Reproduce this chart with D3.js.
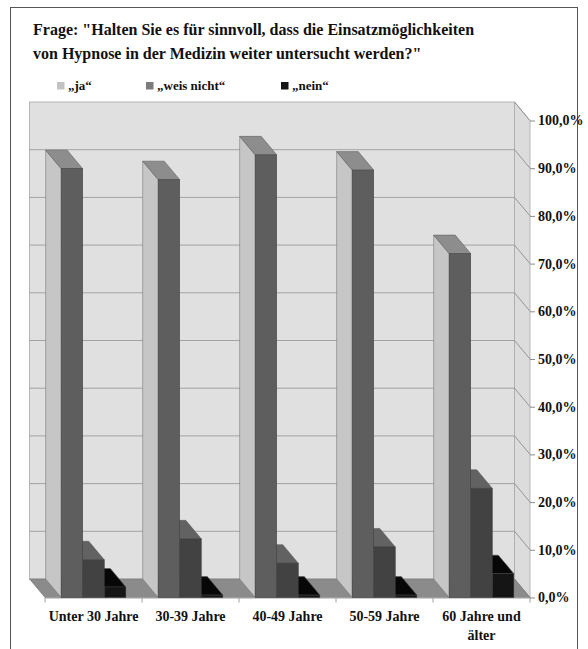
<!DOCTYPE html>
<html>
<head>
<meta charset="utf-8">
<script src="https://cdn.jsdelivr.net/npm/d3@7"></script>
<style>
  html, body { margin: 0; padding: 0; background: #fff; }
  svg { display: block; }
  svg text { font-family: "Liberation Serif", "Times New Roman", Times, serif; font-weight: bold; fill: #111; }
</style>
</head>
<body>
<svg id="chart" width="588" height="649"></svg>
<script>
// ---------- data ----------
const titleLines = ["Frage: \"Halten Sie es für sinnvoll, dass die Einsatzmöglichkeiten",
                    "von Hypnose in der Medizin weiter untersucht werden?\""];
const categories = ["Unter 30 Jahre", "30-39 Jahre", "40-49 Jahre", "50-59 Jahre", "60 Jahre und älter"];
const seriesNames = ["„ja“", "„weis nicht“", "„nein“"];
const ja        = [89.9, 87.6, 92.8, 89.6, 72.1];
const weisNicht = [7.9, 12.3, 7.2, 10.6, 22.9];
const nein      = [2.2, 0.5, 0.5, 0.5, 5.0];
const tickValues = [0, 10, 20, 30, 40, 50, 60, 70, 80, 90, 100];

// ---------- layout ----------
const svg = d3.select("#chart");
const FF = "'Liberation Serif', 'Times New Roman', Times, serif";
const FRONT_L = 45, FRONT_R = 530, FRONT_BOT = 597.5, FRONT_TOP = 120.5;
const DX = 15.5, DY = 18.5;

const x = d3.scaleBand().domain(categories).range([FRONT_L, FRONT_R]).paddingInner(0).paddingOuter(0);
const xs = d3.scaleBand().domain(seriesNames).range([0, x.bandwidth()]).paddingInner(0).paddingOuter(0.75);
const y = d3.scaleLinear().domain([0, 100]).range([FRONT_BOT, FRONT_TOP]);

const seriesValues = [ja, weisNicht, nein];
const faceColors = [
  {front: "#5e5e5e", left: "#c6c6c6", top: "#8d8d8d"},
  {front: "#424242", left: "#6c6c6c", top: "#626262"},
  {front: "#151515", left: "#2a2a2a", top: "#070707"}
];
const legendColors = ["#c2c2c2", "#7c7c7c", "#151515"];

// frame
svg.append("rect").attr("x", 10.5).attr("y", 7.5).attr("width", 567).attr("height", 680)
  .attr("fill", "none").attr("stroke", "#555").attr("stroke-width", 1);

// title
svg.append("g").selectAll("text").data(titleLines).join("text")
  .attr("x", 33).attr("y", (d, i) => 35 + i * 24)
  .attr("font-family", FF).attr("font-size", 16).text(d => d);

// legend
const legendX = [57, 146, 281];
const lg = svg.append("g").selectAll("g").data(seriesNames).join("g")
  .attr("transform", (d, i) => `translate(${legendX[i]},0)`);
lg.append("rect").attr("x", 0).attr("y", 82).attr("width", 7.5).attr("height", 7.5)
  .attr("fill", (d, i) => legendColors[i]);
lg.append("text").attr("x", 11).attr("y", 90).attr("font-family", FF).attr("font-size", 13).text(d => d);

// back wall
const backL = FRONT_L - DX, backR = FRONT_R - DX;
svg.append("rect").attr("x", backL).attr("y", y(100) - DY)
  .attr("width", backR - backL).attr("height", y(0) - y(100))
  .attr("fill", "#e0e0e0").attr("stroke", "#a8a8a8").attr("stroke-width", 0.8);

// side wall
const pts = p => p.map(q => q.join(",")).join(" ");
svg.append("polygon")
  .attr("points", pts([[backR, y(100) - DY], [FRONT_R, y(100)], [FRONT_R, y(0)], [backR, y(0) - DY]]))
  .attr("fill", "#dcdcdc").attr("stroke", "#a8a8a8").attr("stroke-width", 0.8);

// gridlines on back wall + side wall diagonals
const grid = svg.append("g");
grid.selectAll("line.h").data(tickValues.filter(t => t > 0 && t < 100)).join("line")
  .attr("class", "h")
  .attr("x1", backL).attr("x2", backR)
  .attr("y1", d => y(d) - DY).attr("y2", d => y(d) - DY)
  .attr("stroke", "#9c9c9c").attr("stroke-width", 0.9);
grid.selectAll("line.d").data(tickValues).join("line")
  .attr("class", "d")
  .attr("x1", backR).attr("x2", FRONT_R)
  .attr("y1", d => y(d) - DY).attr("y2", d => y(d))
  .attr("stroke", "#8c8c8c").attr("stroke-width", 0.9);

// right axis via d3
const yAxis = d3.axisRight(y).tickValues(tickValues).tickSize(5).tickPadding(3)
  .tickFormat(d => d3.format(".1f")(d).replace(".", ",") + "%");
const ya = svg.append("g").attr("transform", `translate(${FRONT_R},0)`).call(yAxis);
ya.attr("font-family", FF);
ya.select(".domain").remove();
ya.selectAll(".tick line").attr("stroke", "#8c8c8c");
ya.selectAll(".tick text").attr("font-size", 14).attr("font-family", FF)
  .attr("font-weight", "bold").attr("fill", "#111");

// floor
svg.append("polygon")
  .attr("points", pts([[backL, y(0) - DY], [backR, y(0) - DY], [FRONT_R, y(0)], [FRONT_L, y(0)]]))
  .attr("fill", "#8b8b8b").attr("stroke", "#777").attr("stroke-width", 0.6);

// category axis
const xAxis = d3.axisBottom(x).tickSize(0).tickPadding(14);
const xa = svg.append("g").attr("transform", `translate(0,${FRONT_BOT})`).call(xAxis);
xa.attr("font-family", FF);
xa.select(".domain").attr("stroke", "#a0a0a0");
xa.selectAll(".tick text").attr("font-size", 14).attr("font-family", FF)
  .attr("font-weight", "bold").attr("fill", "#111")
  .call(wrap, x.bandwidth() - 2);
// category boundary ticks
svg.append("g").selectAll("line").data(categories.concat(["_end"])).join("line")
  .attr("x1", (d, i) => FRONT_L + i * x.step()).attr("x2", (d, i) => FRONT_L + i * x.step())
  .attr("y1", FRONT_BOT).attr("y2", FRONT_BOT + 5)
  .attr("stroke", "#a0a0a0");

function wrap(sel, width) {
  sel.each(function() {
    const t = d3.select(this);
    const words = t.text().split(/\s+/);
    const yv = t.attr("y"), dy = parseFloat(t.attr("dy")) || 0;
    t.text(null);
    let line = [], lineNo = 0;
    let ts = t.append("tspan").attr("x", 0).attr("y", yv).attr("dy", dy + "em");
    for (const w of words) {
      line.push(w);
      ts.text(line.join(" "));
      if (ts.node().getComputedTextLength() > width && line.length > 1) {
        line.pop(); ts.text(line.join(" "));
        line = [w]; lineNo++;
        ts = t.append("tspan").attr("x", 0).attr("y", yv).attr("dy", (dy + lineNo * 1.3) + "em").text(w);
      }
    }
  });
}

// bars (painted from right to left so hidden left faces are covered)
const bars = [];
categories.forEach((c, ci) => {
  seriesNames.forEach((s, si) => {
    bars.push({c, ci, s, si, v: seriesValues[si][ci]});
  });
});
bars.sort((a, b) => (b.ci * 3 + b.si) - (a.ci * 3 + a.si));

const bg = svg.append("g");
bars.forEach(b => {
  const x0 = x(b.c) + xs(b.s), x1 = x0 + xs.bandwidth();
  const yt = y(b.v), yb = y(0);
  const col = faceColors[b.si];
  const g = bg.append("g");
  g.append("polygon")
    .attr("points", pts([[x0 - DX, yt - DY], [x0, yt], [x0, yb], [x0 - DX, yb - DY]]))
    .attr("fill", col.left).attr("stroke", "#6a6a6a").attr("stroke-width", 0.5);
  g.append("polygon")
    .attr("points", pts([[x0 - DX, yt - DY], [x1 - DX, yt - DY], [x1, yt], [x0, yt]]))
    .attr("fill", col.top).attr("stroke", "#555").attr("stroke-width", 0.5);
  g.append("rect").attr("x", x0).attr("y", yt).attr("width", x1 - x0).attr("height", yb - yt)
    .attr("fill", col.front).attr("stroke", "#3a3a3a").attr("stroke-width", 0.5);
});
</script>
</body>
</html>
